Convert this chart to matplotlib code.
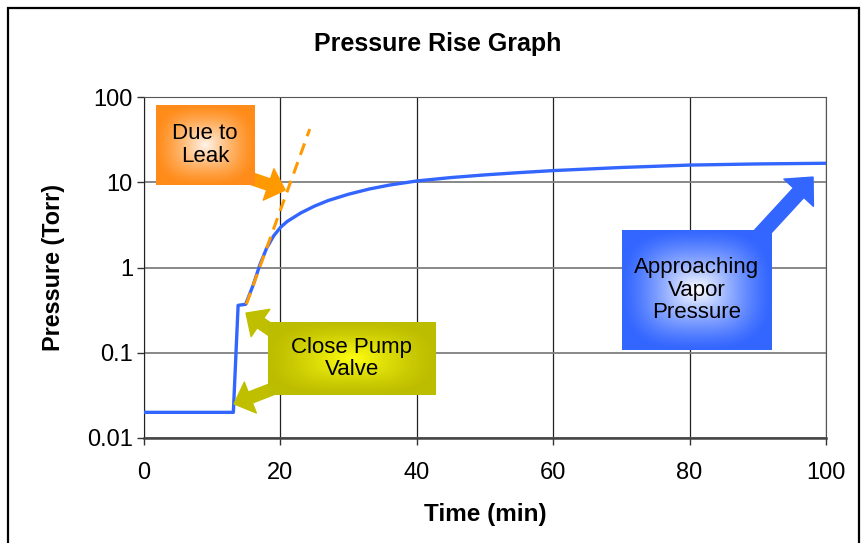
import numpy as np
import matplotlib
matplotlib.use("Agg")
import matplotlib.pyplot as plt
from matplotlib.colors import to_rgb
from matplotlib.ticker import FixedLocator, FuncFormatter, NullLocator
from matplotlib.patches import Rectangle

plt.rcParams["font.family"] = ["Liberation Sans", "DejaVu Sans"]

# pressure trace
time_min = [0, 13.1, 13.8, 14.9, 16, 17, 18, 19, 20, 21, 23, 25, 27, 30, 33,
            36, 40, 45, 50, 55, 60, 70, 80, 90, 100]
pressure_torr = [0.02, 0.02, 0.36, 0.37, 0.62, 1.08, 1.7, 2.34, 2.95, 3.47,
                 4.37, 5.25, 6.1, 7.24, 8.32, 9.27, 10.35, 11.35, 12.2, 12.97,
                 13.7, 14.9, 15.9, 16.4, 16.7]

# leak extrapolation (dashed)
leak_time = [15, 24.3]
leak_pressure = [0.37, 42]

x_ticks = [0, 20, 40, 60, 80, 100]
y_ticks = [0.01, 0.1, 1, 10, 100]


def gradient(edge, center, n=200):
    u = np.linspace(-1, 1, n)
    U, V = np.meshgrid(u, u)
    d = np.clip((np.abs(U) ** 3 + np.abs(V) ** 3) ** (1 / 3), 0, 1)
    w = ((1 - d) ** 1.3)[..., None]
    return np.array(to_rgb(edge)) * (1 - w) + np.array(to_rgb(center)) * w


def callout(ax, bounds, text, edge, center):
    box = ax.inset_axes(bounds, zorder=5)
    box.imshow(gradient(edge, center), aspect="auto", extent=(0, 1, 0, 1))
    box.set_axis_off()
    box.text(0.5, 0.5, text, ha="center", va="center", fontsize=16,
             linespacing=1.1, transform=box.transAxes)


def arrow(ax, tail, tip, color, scale):
    ax.annotate("", xy=tip, xytext=tail,
                arrowprops=dict(arrowstyle="simple,head_length=0.9,head_width=1.7,tail_width=0.6",
                                mutation_scale=scale, color=color, shrinkA=0, shrinkB=0),
                zorder=4)


fig = plt.figure(figsize=(8.68, 5.43), dpi=100)
ax = fig.add_axes([144 / 868, 1 - 438 / 543, 682 / 868, 341 / 543])

ax.plot(time_min, pressure_torr, color="#3366FF", lw=2.4, zorder=3)
ax.plot(leak_time, leak_pressure, color="#FF9900", lw=2.2, ls=(0, (4, 2.5)), zorder=3)

ax.set_yscale("log")
ax.set_xlim(0, 100)
ax.set_ylim(0.01, 100)
ax.xaxis.set_major_locator(FixedLocator(x_ticks))
ax.yaxis.set_major_locator(FixedLocator(y_ticks))
ax.yaxis.set_minor_locator(NullLocator())
ax.yaxis.set_major_formatter(FuncFormatter(lambda v, _: f"{v:g}"))
ax.tick_params(labelsize=17, direction="out", length=5, width=1, colors="#333333",
               labelcolor="black")
ax.tick_params(axis="x", pad=12)
ax.tick_params(axis="y", pad=3)

ax.grid(axis="x", color="#222222", lw=0.9)
ax.grid(axis="y", color="#7f7f7f", lw=1.3)
ax.set_axisbelow(True)
for side in ["top", "right"]:
    ax.spines[side].set_color("#555555")
ax.spines["left"].set_color("#222222")
ax.spines["bottom"].set_color("#444444")
ax.spines["bottom"].set_linewidth(1.8)

ax.set_xlabel("Time (min)", fontsize=17.5, fontweight="bold", labelpad=14)
ax.set_ylabel("Pressure (Torr)", fontsize=16.8, fontweight="bold", labelpad=16)
fig.text(438 / 868, 1 - 44 / 543, "Pressure Rise Graph", ha="center", va="center",
         fontsize=18, fontweight="bold")

# callouts
callout(ax, [0.0176, 0.742, 0.1437, 0.2346], "Due to\nLeak", "#FF8C1A", "#FFF4EA")
callout(ax, [0.1818, 0.126, 0.2463, 0.214], "Close Pump\nValve", "#BDBD00", "#FFFF10")
callout(ax, [0.701, 0.258, 0.2185, 0.352], "Approaching\nVapor\nPressure", "#3366FF", "#FFFFFF")

arrow(ax, (15.5, 11.2), (20.7, 8.1), "#FF9900", 14)
arrow(ax, (19.2, 0.171), (14.96, 0.292), "#BFBF00", 14)
arrow(ax, (19.2, 0.0386), (13.2, 0.0251), "#BFBF00", 14)
arrow(ax, (89.6, 2.1), (98.1, 11.5), "#3366FF", 17)

# outer chart frame
fig.patches.append(Rectangle((8 / 868, -0.02), 851 / 868, 1.02 - 8 / 543,
                             transform=fig.transFigure, fill=False,
                             edgecolor="black", lw=1.6))

fig.savefig("out.png", dpi=100)
